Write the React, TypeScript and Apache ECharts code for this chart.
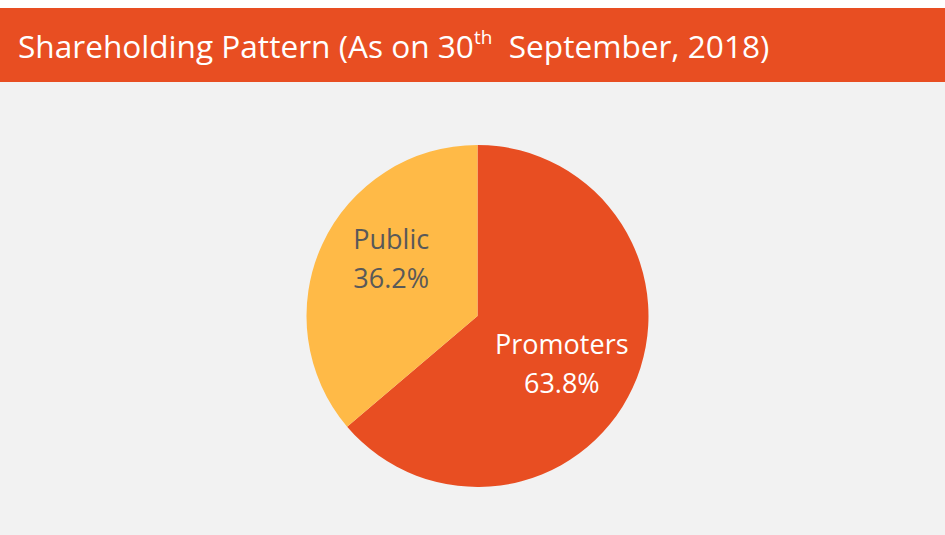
import React, { useEffect, useRef } from "react";
import * as echarts from "echarts";

const categories = ["Promoters", "Public"];
const shares = [63.8, 36.2];
const sliceColors = ["#E84E22", "#FFBA47"];
const labelColors = ["#FFFFFF", "#595959"];
const titleMain = "Shareholding Pattern (As on 30";
const titleSup = "th";
const titleEnd = "  September, 2018)";

export default function App() {
  const ref = useRef<HTMLDivElement>(null);
  useEffect(() => {
    document.body.style.margin = "0";
    const chart = echarts.init(ref.current!, null, { renderer: "svg" });
    const shifts = [
      [4, 10],
      [-6, -21],
    ];
    chart.setOption({
      animation: false,
      backgroundColor: "#F2F2F2",
      graphic: [
        { type: "rect", left: 0, top: 0, shape: { width: 945, height: 8 }, style: { fill: "#FFFFFF" }, silent: true },
        { type: "rect", left: 0, top: 8, shape: { width: 945, height: 74 }, style: { fill: "#E84E22" }, silent: true },
        {
          type: "text",
          x: 18,
          y: 45,
          style: {
            text: `{a|${titleMain}}{s|${titleSup}}{a|${titleEnd}}`,
            verticalAlign: "middle",
            rich: {
              a: { fontFamily: "Open Sans", fontSize: 31.6, fill: "#FFFFFF", color: "#FFFFFF" },
              s: { fontFamily: "Open Sans", fontSize: 19, fill: "#FFFFFF", color: "#FFFFFF", verticalAlign: "top", padding: [0, 0, 16, 0] },
            },
          },
        },
      ],
      series: [
        {
          type: "pie",
          center: [477.5, 316],
          radius: [0, 171],
          startAngle: 90,
          clockwise: true,
          label: {
            show: true,
            position: "inside",
            fontFamily: "Open Sans",
            fontSize: 27,
            lineHeight: 39,
            formatter: (p: any) => `${p.name}\n${p.value.toFixed(1)}%`,
          },
          labelLayout: (p: any) => ({ dx: shifts[p.dataIndex][0], dy: shifts[p.dataIndex][1] }),
          labelLine: { show: false },
          emphasis: { disabled: true },
          itemStyle: { borderWidth: 0 },
          data: categories.map((c, i) => ({
            name: c,
            value: shares[i],
            itemStyle: { color: sliceColors[i] },
            label: { color: labelColors[i] },
          })),
        },
      ],
    });
    return () => chart.dispose();
  }, []);
  return <div ref={ref} style={{ width: 945, height: 535 }} />;
}
